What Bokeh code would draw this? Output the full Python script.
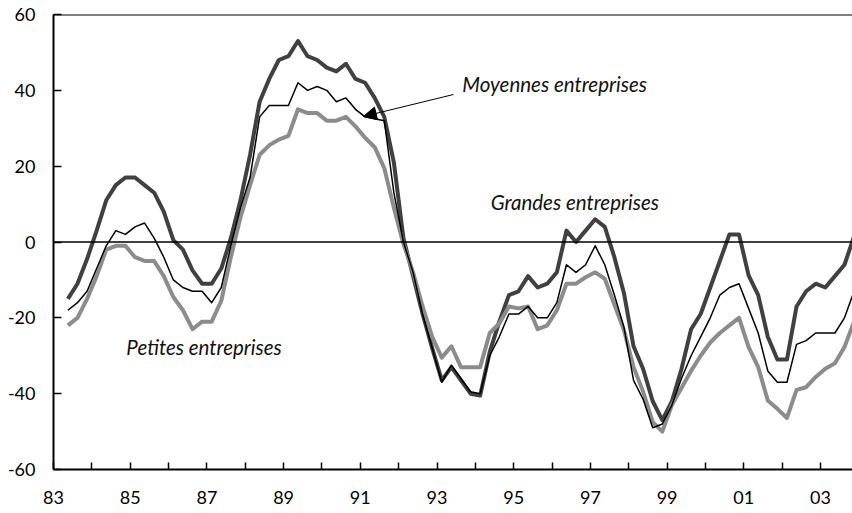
from bokeh.plotting import figure
from bokeh.models import (FixedTicker, Span, Arrow, NormalHead,
                          Label, Range1d, ColumnDataSource)
from bokeh.embed import file_html
from bokeh.resources import INLINE

# ---- data (quarterly balance of opinion, 1983 Q2 .. 2003 Q4) ----
first_year, first_quarter = 1983, 2
n_quarters = 83

grandes = [-15, -11, -4.5, 3, 11, 15, 17, 17, 15, 13, 8, 0.5, -2, -7.5, -11, -11, -7, 1,
           11, 23, 37, 43, 48, 49, 53, 49, 48, 46, 45, 47, 43, 42, 38, 33, 21, 1,
           -9, -19, -28, -36.5, -33, -36.5, -40, -40.5, -29, -21, -14, -13, -9, -12, -11, -8,
           3, 0, 3, 6, 4, -4, -13.5, -27.5, -33.5, -42, -47, -42, -33.5, -23, -19, -12,
           -5, 2, 2, -8.8, -14, -25, -31, -31, -17, -13, -11, -12, -9, -6, 1.5]

moyennes = [-18, -16, -13, -7, -1, 3, 2, 4, 5, 1, -4, -10, -12, -13, -13, -16, -12, -1,
            9, 17, 33, 36, 36, 36, 42, 40, 41, 40, 37, 38, 35, 33, 32.5, 32, 13, 0,
            -8, -19, -28, -37, -32.5, -36, -39.5, -40, -30, -25, -19, -19, -17, -20, -20, -16,
            -6, -8, -6, -1, -6, -14, -22.5, -36.5, -41.5, -49, -48, -43, -36, -30, -25, -20,
            -14, -12, -11, -17.5, -24, -34, -37, -37, -27, -26, -24, -24, -24, -20, -13]

petites = [-22, -20, -15, -9, -2, -1, -1, -4, -5, -5, -9, -14.5, -18, -23, -21, -21, -15.5, -4,
           6.5, 15, 23, 25.5, 27, 28, 35, 34, 34, 32, 32, 33, 30.5, 27.5, 25, 19.5, 9, -0.5,
           -8, -17, -25, -30.5, -27.5, -33, -33, -33, -24, -21.5, -17, -17.5, -17, -23, -22, -18,
           -11, -11, -9.3, -8, -9.7, -16.5, -23.3, -33, -39.5, -47.5, -50, -43, -38.5, -34, -30, -26.5,
           -24, -22, -20, -27.7, -33, -41.8, -44, -46.4, -39, -38.3, -35.6, -33.4, -32, -27.7, -21]

year_ticks = list(range(1983, 2004))
year_labels = {y: (f"{y % 100:02d}" if y % 2 == 1 else "") for y in year_ticks}
y_ticks = [-60, -40, -20, 0, 20, 40, 60]
y_labels = {v: str(v) for v in y_ticks}

# quarter mid-points as decimal years
periods = []
yr, q = first_year, first_quarter
for _ in range(n_quarters):
    periods.append(yr + (q - 0.5) / 4.0)
    q += 1
    if q > 4:
        q, yr = 1, yr + 1

src = ColumnDataSource(dict(t=periods, g=grandes, m=moyennes, p=petites))

FONT = "Lato"

p = figure(width=852, height=513, output_backend="svg", toolbar_location=None,
           x_range=Range1d(1983, 2003.834), y_range=Range1d(-60, 60),
           min_border_left=53, min_border_right=0, min_border_top=14, min_border_bottom=44)
p.outline_line_color = None
p.grid.visible = False
p.background_fill_color = "white"
p.border_fill_color = "white"

# axes
xa = p.xaxis[0]
xa.ticker = FixedTicker(ticks=year_ticks)
xa.major_label_overrides = year_labels
xa.axis_line_width = 2
xa.axis_line_color = "black"
xa.major_tick_in = 7
xa.major_tick_out = 0
xa.major_tick_line_width = 1.5
xa.minor_tick_line_color = None
xa.major_label_standoff = 21
xa.major_label_text_font = FONT
xa.major_label_text_font_size = "18px"
xa.major_label_text_color = "black"

ya = p.yaxis[0]
ya.ticker = FixedTicker(ticks=y_ticks)
ya.major_label_overrides = y_labels
ya.axis_line_width = 2
ya.axis_line_color = "black"
ya.major_tick_in = 8
ya.major_tick_out = 0
ya.major_tick_line_width = 1.5
ya.minor_tick_line_color = None
ya.major_label_standoff = 18
ya.major_label_text_font = FONT
ya.major_label_text_font_size = "18px"
ya.major_label_text_color = "black"

# top border and zero line
p.add_layout(Span(location=60, dimension="width", line_color="black", line_width=2))
p.add_layout(Span(location=0, dimension="width", line_color="black", line_width=1.5))

# series
p.line("t", "g", source=src, line_color="#404040", line_width=4, line_join="round")
p.line("t", "p", source=src, line_color="#8c8c8c", line_width=4, line_join="round")
p.line("t", "m", source=src, line_color="black", line_width=1.5, line_join="round")

# annotations
lab_style = dict(text_font=FONT, text_font_style="italic", text_font_size="20.5px",
                 text_color="#111111", text_baseline="middle", text_align="left")
p.add_layout(Label(x=1993.66, y=41.8, text="Moyennes entreprises", **lab_style))
p.add_layout(Label(x=1994.4, y=10.6, text="Grandes entreprises", **lab_style))
p.add_layout(Label(x=1984.9, y=-27.6, text="Petites entreprises", **lab_style))
p.add_layout(Arrow(x_start=1993.43, y_start=38.9, x_end=1991.08, y_end=33.1,
                   line_color="black", line_width=1,
                   end=NormalHead(size=13, fill_color="black", line_color="black")))

open("out.html", "w").write(file_html(p, INLINE))
